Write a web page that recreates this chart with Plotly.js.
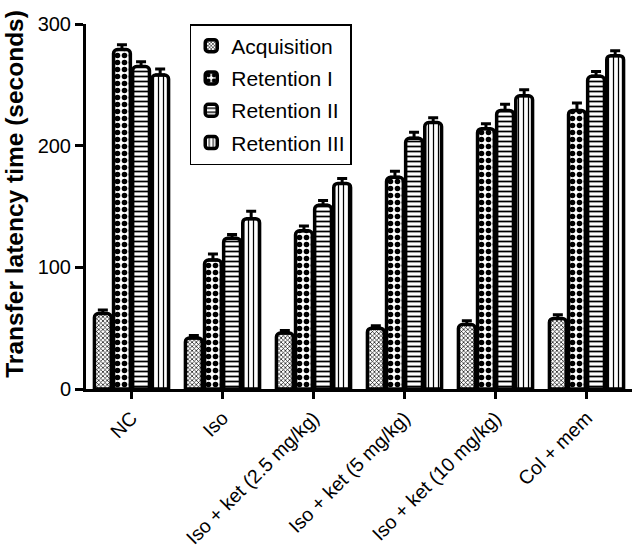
<!DOCTYPE html>
<html>
<head>
<meta charset="utf-8">
<script src="https://cdn.plot.ly/plotly-3.0.1.min.js"></script>
<style>html,body{margin:0;padding:0;background:#fff;}#chart{width:636px;height:555px;}</style>
</head>
<body>
<div id="chart"></div>
<script>
const categories = ["NC", "Iso", "Iso + ket (2.5 mg/kg)", "Iso + ket (5 mg/kg)", "Iso + ket (10 mg/kg)", "Col + mem"];
const seriesNames = ["Acquisition", "Retention I", "Retention II", "Retention III"];
const acquisition = [62, 42, 46, 50, 53, 58];
const retention1 = [279, 106, 130, 174, 214, 229];
const retention2 = [265, 124, 151, 206, 229, 257];
const retention3 = [258, 140, 169, 219, 241, 274];
const err1 = [3, 2, 2, 2, 3, 3];
const err2 = [4, 5, 4, 5, 4, 6];
const err3 = [4, 3, 4, 5, 5, 4];
const err4 = [5, 6, 4, 4, 5, 4];
const yTicks = [0, 100, 200, 300];
const yTitle = "Transfer latency time (seconds)";

const values = [acquisition, retention1, retention2, retention3];
const errs = [err1, err2, err3, err4];
const patterns = [
  {shape: "x", size: 3, solidity: 0.4, fgcolor: "#000", bgcolor: "#fff"},
  {shape: ".", size: 7, solidity: 0.5, fgcolor: "#000", bgcolor: "#fff"},
  {shape: "-", size: 5, solidity: 0.35, fgcolor: "#000", bgcolor: "#fff"},
  {shape: "|", size: 5, solidity: 0.25, fgcolor: "#000", bgcolor: "#fff"}
];

const traces = seriesNames.map((name, i) => ({
  type: "bar",
  name: name,
  legendgroup: "g" + i,
  x: categories,
  y: values[i],
  marker: {
    color: "#fff",
    line: {color: "#000", width: 3.5},
    pattern: patterns[i],
    cornerradius: 4
  },
  error_y: {
    type: "data",
    symmetric: false,
    array: errs[i],
    arrayminus: errs[i].map(() => 0),
    color: "#000",
    thickness: 3,
    width: 5
  }
}));

const layout = {
  width: 636,
  height: 555,
  margin: {l: 86, r: 4, t: 24, b: 166},
  paper_bgcolor: "#fff",
  plot_bgcolor: "#fff",
  font: {family: "Liberation Sans, Arial, sans-serif", color: "#000", size: 18},
  barmode: "group",
  bargap: 0.16,
  bargroupgap: 0.12,
  showlegend: true,
  legend: {
    x: 0.19, y: 1.0, xanchor: "left", yanchor: "top",
    bordercolor: "#000", borderwidth: 1.5, bgcolor: "#fff",
    font: {size: 21, family: "Liberation Sans, Arial, sans-serif"},
    tracegroupgap: 2
  },
  xaxis: {
    showline: true, linecolor: "#000", linewidth: 3,
    ticks: "outside", ticklen: 7, tickwidth: 3, tickcolor: "#000",
    tickangle: -45,
    tickfont: {size: 19.5},
    showgrid: false, zeroline: false
  },
  yaxis: {
    range: [0, 300],
    tickvals: yTicks,
    showline: true, linecolor: "#000", linewidth: 3,
    ticks: "outside", ticklen: 8, tickwidth: 3, tickcolor: "#000",
    tickfont: {size: 20},
    showgrid: false, zeroline: false
  },
  annotations: [{
    text: "<b>" + yTitle + "</b>",
    textangle: -90,
    xref: "paper", yref: "paper",
    x: -0.13, y: 0.535,
    xanchor: "center", yanchor: "middle",
    showarrow: false,
    font: {size: 24.5, family: "Liberation Sans, Arial, sans-serif", color: "#000"}
  }]
};

Plotly.newPlot("chart", traces, layout, {displayModeBar: false, staticPlot: true});
</script>
</body>
</html>
